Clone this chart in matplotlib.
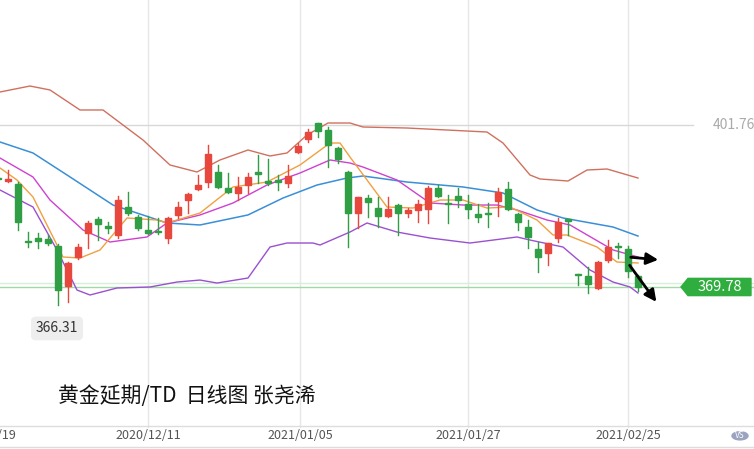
import matplotlib
matplotlib.use("Agg")
import matplotlib.pyplot as plt
from matplotlib.patches import Rectangle, Polygon, Circle

plt.rcParams['font.family'] = ['Noto Sans CJK SC', 'DejaVu Sans']

# OHLC
opens  = [391.3,390.7,390.1,378.8,379.5,379.3,377.9,370.0,375.7,380.4,383.2,381.6,380.0,385.6,383.6,381.0,380.7,379.5,384.0,387.0,
          389.1,390.5,392.5,389.3,388.3,389.9,392.5,390.5,390.7,390.3,396.4,399.0,402.2,400.8,397.2,392.5,384.4,387.3,385.4,383.8,
          386.0,384.4,385.0,385.2,389.3,386.2,387.7,386.2,384.2,384.2,386.8,389.1,384.2,381.6,377.3,376.5,379.5,383.0,372.2,372.0,
          369.6,375.1,377.7,377.3,372.0]
highs  = [392.0,392.9,390.5,380.7,380.5,380.0,378.3,374.8,378.3,382.8,383.6,382.6,387.7,388.5,384.0,383.8,383.4,383.6,386.6,388.3,
          391.9,397.8,393.9,392.3,391.5,392.3,395.8,395.0,391.9,393.9,398.2,401.0,402.2,401.4,397.4,392.7,387.5,387.9,387.5,387.5,
          386.2,385.4,387.0,389.7,389.9,387.9,389.3,387.9,386.2,386.4,389.3,390.5,384.4,383.0,378.7,378.5,383.4,383.2,372.4,373.7,
          375.0,379.1,378.5,377.9,372.2]
lows   = [390.5,390.5,381.0,377.7,377.5,378.0,366.31,366.8,375.3,377.5,379.1,380.4,379.5,384.0,381.0,380.2,380.2,378.5,383.4,384.4,
          388.9,389.5,389.3,388.3,387.0,388.3,390.3,390.0,388.9,389.5,396.2,398.4,399.4,393.5,394.3,377.7,381.4,383.6,381.6,383.6,
          380.0,383.6,382.6,382.4,387.5,382.4,385.6,383.4,382.6,381.6,383.8,385.0,381.0,377.5,372.7,374.1,378.7,380.0,370.2,368.6,
          369.4,374.7,375.5,371.8,369.0]
closes = [391.1,391.1,382.6,378.7,378.9,378.5,369.2,374.5,377.7,382.4,382.2,381.5,386.9,384.4,381.4,380.4,380.6,383.4,385.6,388.1,
          389.9,396.0,389.5,388.5,389.5,391.5,392.1,390.4,390.6,391.7,397.6,400.4,400.6,397.8,395.0,384.4,387.5,386.6,383.8,385.2,
          384.4,385.0,386.2,389.3,387.7,386.1,386.96,385.2,383.6,384.1,388.5,385.2,382.6,379.7,375.7,378.5,382.6,382.9,372.1,370.4,
          374.7,377.7,377.6,372.9,369.78]

# indicator lines: (candle index, price)
upper_x = [0.2,3.2,5.2,8.2,10.5,14.5,17.2,19.9,22.2,25,27.2,28.9,30.9,33,35.2,36.5,40.9,48.9,50.5,53.2,54.2,57,58.9,60.9,64]
upper_y = [408.27,409.45,408.67,404.72,404.72,398.79,393.86,392.48,394.85,396.82,395.64,396.23,399.78,402.15,402.15,401.36,401.16,400.37,398.20,391.89,391.10,390.70,392.87,393.07,391.29]
ma20_x = [0.2,3.5,6.9,11.5,16.9,20.2,25,28.5,31.9,34.9,36.5,40.9,46.5,50.5,53.9,56.5,61.5,64]
ma20_y = [398.40,396.23,391.89,385.96,382.41,382.02,384.0,387.34,389.91,391.29,391.69,390.50,389.52,388.33,384.98,383.40,381.62,379.84]
ma10_x = [0.2,3.5,5.2,8.5,11.2,14.9,16.9,20.2,23.5,26.9,30.2,33.2,35.2,36.5,39.9,43.2,46.5,49.9,51.9,54.9,57.2,61.5,64]
ma10_y = [395.24,391.49,386.95,381.03,378.66,379.65,382.41,383.99,386.36,389.91,392.28,394.85,394.25,393.46,390.90,386.36,385.96,385.96,384.98,383.0,382.02,377.09,375.70]
ma5_x = [0.2,1.9,3.5,6.5,8.2,10.2,12.9,15.9,16.9,20.2,23.5,26.9,30.2,33.2,34.2,35.2,38.9,41.5,44.2,46.5,48.9,51.2,53.9,55.5,56.9,59.9,61.9,64]
ma5_y = [393.27,390.90,387.54,375.70,375.50,377.08,383.40,383.0,382.41,384.38,389.52,390.50,393.86,398.20,398.20,395.44,385.57,385.37,386.95,386.95,385.37,385.57,383.0,380.04,380.04,377.67,374.71,374.52]
lower_x = [0.2,3.5,5.9,7.9,9.2,11.9,15.2,17.9,20.2,21.9,25,27.2,28.9,31.5,32.2,35.2,36.9,39.9,43.2,47.2,51.9,53.2,56.5,59.2,61.5,63.2,64]
lower_y = [388.92,385.57,377.08,369.18,368.2,369.58,369.78,370.76,371.15,370.56,371.55,377.67,378.46,378.46,378.07,380.63,382.41,380.63,379.45,378.46,379.65,379.05,377.67,373.13,370.76,369.78,368.59]

date_labels = ["1/19", "2020/12/11", "2021/01/05", "2021/01/27", "2021/02/25"]
date_pos = [0.6, 15.0, 30.2, 47.0, 63.0]
high_mark, last_price, low_mark = 401.76, 369.78, 366.31

fig = plt.figure(figsize=(7.54, 4.49), dpi=100)
ax = fig.add_axes([0, 0, 1, 1])
ax.set_xlim(0.2, 75.6)
ax.set_ylim(337.8, 426.43)
ax.axis('off')

red, green = '#e8473e', '#2f9e44'
for grid_x in date_pos[1:]:
    ax.axvline(grid_x, ymin=0.05, color='#e6e6e6', lw=1, zorder=0)
ax.plot([0.2, 69.5], [high_mark]*2, color='#d8d8d8', lw=1, zorder=1)
ax.axhline(last_price, color='#9fd9a6', lw=1, zorder=1)
ax.axhline(last_price + 0.8, color='#d7eedb', lw=1, zorder=1)
ax.axhline(342.3, color='#dddddd', lw=1)
ax.axhline(338.2, color='#dddddd', lw=1)

ax.plot(upper_x, upper_y, color='#d0705e', lw=1)
ax.plot(ma20_x, ma20_y, color='#3a8fd8', lw=1.1)
ax.plot(ma10_x, ma10_y, color='#d040d0', lw=1)
ax.plot(ma5_x, ma5_y, color='#f0a040', lw=1)
ax.plot(lower_x, lower_y, color='#9b50d0', lw=1)

for i, (o, h, l, c) in enumerate(zip(opens, highs, lows, closes)):
    col = red if c >= o else green
    ax.plot([i, i], [l, h], color=col, lw=1, zorder=3)
    b = max(abs(c - o), 0.25)
    ax.add_patch(Rectangle((i - 0.32, min(o, c)), 0.64, b, color=col, zorder=4))

ax.annotate('', xy=(66.3, 375.1), xytext=(63.0, 375.7),
            arrowprops=dict(arrowstyle='-|>,head_length=0.7,head_width=0.35', color='black', lw=2), zorder=6)
ax.annotate('', xy=(66.0, 366.4), xytext=(63.0, 374.5),
            arrowprops=dict(arrowstyle='-|>,head_length=0.7,head_width=0.35', color='black', lw=2), zorder=6)

ax.text(73.6, high_mark, f"{high_mark:.2f}", color='#aaaaaa', fontsize=10, ha='center', va='center')
ax.add_patch(Polygon([[68.3, last_price], [69.0, last_price+1.7], [75.3, last_price+1.7],
                      [75.3, last_price-1.7], [69.0, last_price-1.7]], color='#2fae3f', zorder=5))
ax.text(72.2, last_price, f"{last_price:.2f}", color='white', fontsize=10.5, ha='center', va='center', zorder=6)
ax.text(5.9, 361.6, f"{low_mark:.2f}", fontsize=10, ha='center', va='center', color='#333333',
        bbox=dict(boxstyle='round,pad=0.35', fc='#eeeeee', ec='none'))

ax.text(6.0, 348.3, "黄金延期/TD  日线图 张尧浠", fontsize=15, ha='left', va='center', color='#111111')

for lab, p in zip(date_labels, date_pos):
    ax.text(p, 340.4, lab, fontsize=9, ha='center', va='center', color='#555555')
ax.add_patch(Circle((74.2, 340.4), 0.8, color='#9aa3bf', zorder=5))
ax.text(74.2, 340.4, "VS", fontsize=6, ha='center', va='center', color='white', zorder=6)

fig.savefig('out.png', dpi=100)
